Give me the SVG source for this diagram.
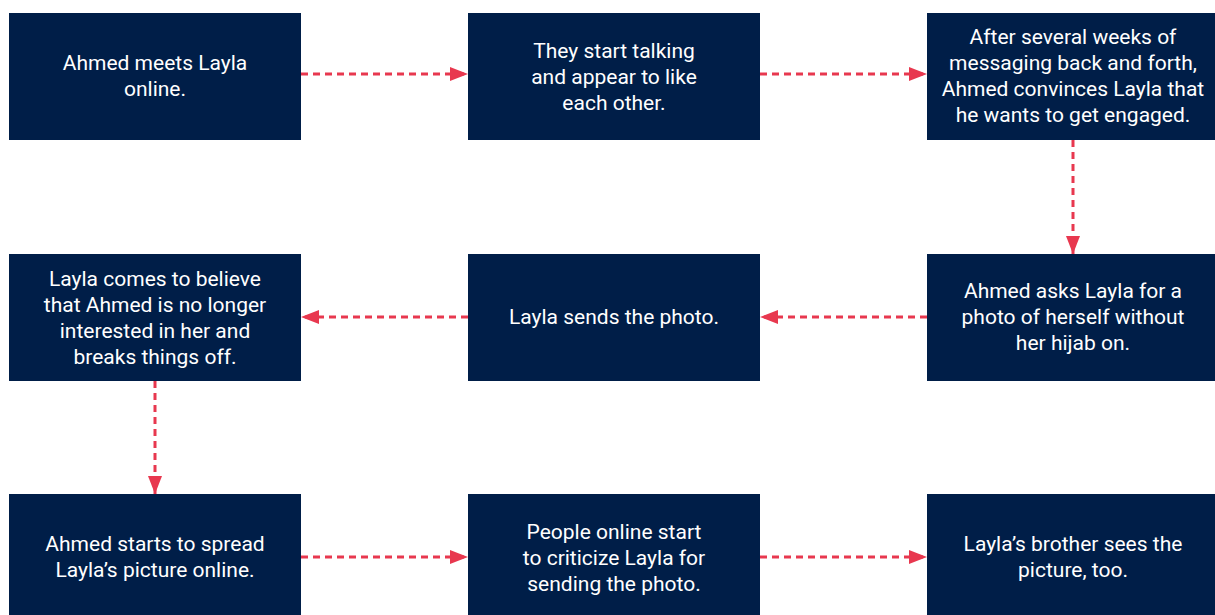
<svg xmlns="http://www.w3.org/2000/svg" width="1215" height="615" viewBox="0 0 1215 615">
<defs>
<style>
.box{fill:#001e48}
.t{font-family:Roboto,"Liberation Sans",sans-serif;font-size:21px;fill:#ffffff;text-anchor:middle}
.c{stroke:#e8384f;stroke-width:3;stroke-dasharray:7 5;fill:none}
</style>
<marker id="ah" markerWidth="18" markerHeight="14" refX="18" refY="7" orient="auto" markerUnits="userSpaceOnUse">
<path d="M0,0 L18,7 L0,14 Z" fill="#e8384f"/>
</marker>
</defs>
<rect width="1215" height="615" fill="#ffffff"/>
<g id="connectors">
<line class="c" x1="301" y1="74" x2="468" y2="74" marker-end="url(#ah)"/>
<line class="c" x1="760" y1="74" x2="927" y2="74" marker-end="url(#ah)"/>
<line class="c" x1="1073" y1="140" x2="1073" y2="254" marker-end="url(#ah)"/>
<line class="c" x1="927" y1="317" x2="760" y2="317" marker-end="url(#ah)"/>
<line class="c" x1="468" y1="317" x2="301" y2="317" marker-end="url(#ah)"/>
<line class="c" x1="155" y1="381" x2="155" y2="494" marker-end="url(#ah)"/>
<line class="c" x1="301" y1="557" x2="468" y2="557" marker-end="url(#ah)"/>
<line class="c" x1="760" y1="557" x2="927" y2="557" marker-end="url(#ah)"/>
</g>
<g id="n1"><rect class="box" x="9" y="13" width="292" height="127"/>
<text class="t"><tspan x="155" y="70">Ahmed meets Layla</tspan><tspan x="155" y="96">online.</tspan></text></g>
<g id="n2"><rect class="box" x="468" y="13" width="292" height="127"/>
<text class="t"><tspan x="614" y="58">They start talking</tspan><tspan x="614" y="84">and appear to like</tspan><tspan x="614" y="110">each other.</tspan></text></g>
<g id="n3"><rect class="box" x="927" y="13" width="288" height="127"/>
<text class="t"><tspan x="1073" y="44">After several weeks of</tspan><tspan x="1073" y="70">messaging back and forth,</tspan><tspan x="1073" y="96">Ahmed convinces Layla that</tspan><tspan x="1073" y="122">he wants to get engaged.</tspan></text></g>
<g id="n4"><rect class="box" x="927" y="254" width="288" height="127"/>
<text class="t"><tspan x="1073" y="298">Ahmed asks Layla for a</tspan><tspan x="1073" y="324">photo of herself without</tspan><tspan x="1073" y="350">her hijab on.</tspan></text></g>
<g id="n5"><rect class="box" x="468" y="254" width="292" height="127"/>
<text class="t"><tspan x="614" y="324">Layla sends the photo.</tspan></text></g>
<g id="n6"><rect class="box" x="9" y="254" width="292" height="127"/>
<text class="t"><tspan x="155" y="286">Layla comes to believe</tspan><tspan x="155" y="312">that Ahmed is no longer</tspan><tspan x="155" y="338">interested in her and</tspan><tspan x="155" y="364">breaks things off.</tspan></text></g>
<g id="n7"><rect class="box" x="9" y="494" width="292" height="127"/>
<text class="t"><tspan x="155" y="551">Ahmed starts to spread</tspan><tspan x="155" y="577">Layla’s picture online.</tspan></text></g>
<g id="n8"><rect class="box" x="468" y="494" width="292" height="127"/>
<text class="t"><tspan x="614" y="539">People online start</tspan><tspan x="614" y="565">to criticize Layla for</tspan><tspan x="614" y="591">sending the photo.</tspan></text></g>
<g id="n9"><rect class="box" x="927" y="494" width="288" height="127"/>
<text class="t"><tspan x="1073" y="551">Layla’s brother sees the</tspan><tspan x="1073" y="577">picture, too.</tspan></text></g>
</svg>
